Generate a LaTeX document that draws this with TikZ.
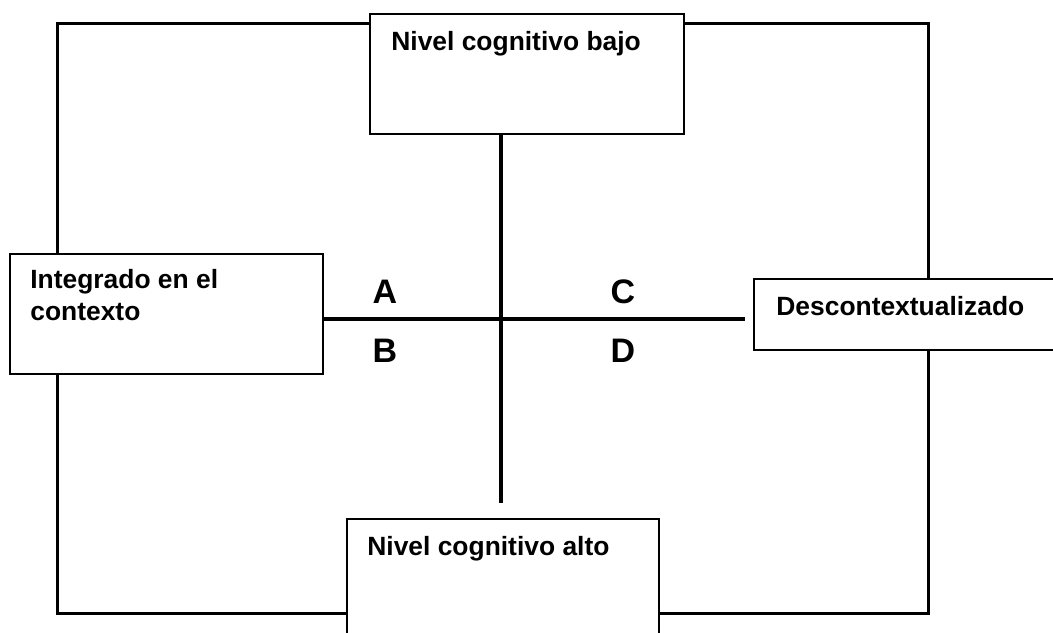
\documentclass[tikz,border=0pt]{standalone}
\usepackage{fontspec}
\setmainfont{Liberation Sans}
\usetikzlibrary{positioning}

\tikzset{
	caja/.style={draw, fill=white, line width=1pt, inner sep=0pt, anchor=north west},
	rotulo/.style={font=\fontsize{13.2}{16}\selectfont\bfseries, inner sep=0pt, anchor=base west, align=left},
	letra/.style={font=\fontsize{17}{20}\selectfont\bfseries, inner sep=0pt, anchor=base},
	eje/.style={line width=2pt}
}

\begin{document}
\begin{tikzpicture}[x=0.5pt,y=-0.5pt]
		\clip (0,0) rectangle (1053,632);
		\fill[white] (0,0) rectangle (1053,632);
		\draw[line width=1.5pt] (57,23) rectangle (928,613);
		\coordinate (cruce) at (501,319);

		\node[caja, minimum width=157pt, minimum height=60pt] (bajo) at (369,13) {};
		\node[caja, minimum width=156.5pt, minimum height=60pt] (integrado) at (9,253) {};
		\node[caja, minimum width=150pt, minimum height=35.5pt] (descon) at (753,278) {};
		\node[caja, minimum width=156pt, minimum height=65pt] (alto) at (346,518) {};

		\draw[eje, shorten >=4pt] (cruce -| integrado.east) -- (cruce -| descon.west);
		\draw[eje, shorten >=7.5pt] (cruce |- bajo.south) -- (cruce |- alto.north);

		\node[rotulo] (tbajo) at ([shift={(11pt,-18.5pt)}]bajo.north west) {Nivel cognitivo bajo};
		\node[rotulo] (tintegrado) at ([shift={(10.5pt,-33.5pt)}]integrado.north west) {Integrado en el\\contexto};
		\node[rotulo] (tdescon) at ([shift={(11.5pt,-18.5pt)}]descon.north west) {Descontextualizado};
		\node[rotulo] (talto) at ([shift={(10.5pt,-18.5pt)}]alto.north west) {Nivel cognitivo alto};

		\node[letra] (la) at (385,303) {A};
		\node[letra] (lb) at (385,362) {B};
		\node[letra] (lc) at (623,303) {C};
		\node[letra] (ld) at (623,362) {D};
	\end{tikzpicture}
\end{document}
